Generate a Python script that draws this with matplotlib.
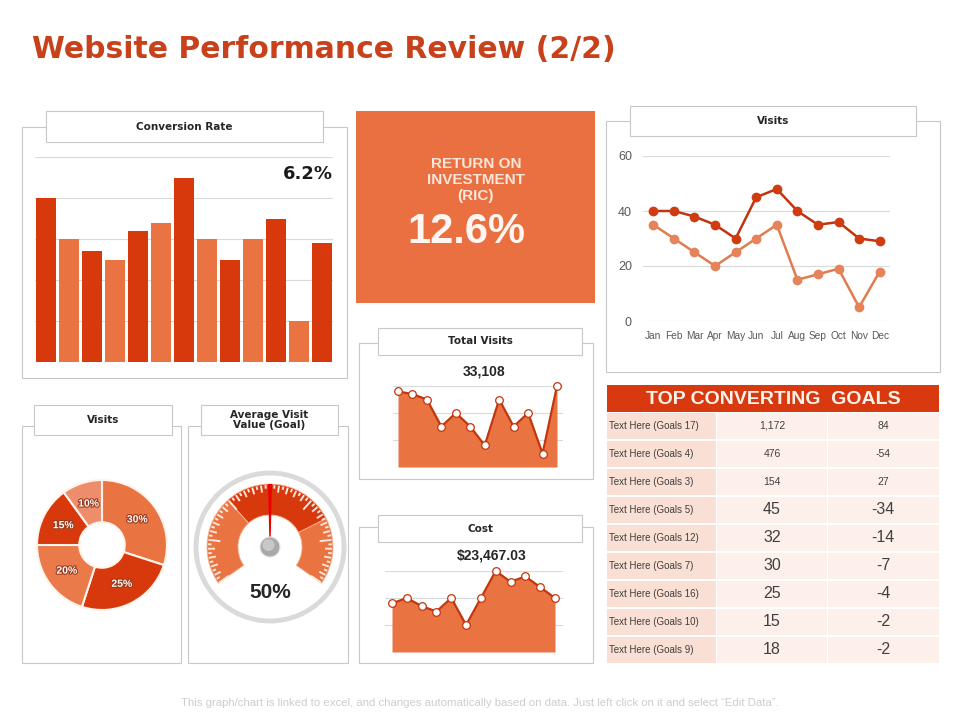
import numpy as np
import matplotlib
matplotlib.use('Agg')
import matplotlib.pyplot as plt
from matplotlib.patches import Rectangle, Wedge, Circle, Polygon
import matplotlib.patheffects as pe

# ---- data ----
conv_rate = [40, 30, 27, 25, 32, 34, 45, 30, 25, 30, 35, 10, 29]
conv_total = '6.2%'

roi_label = 'RETURN ON\nINVESTMENT\n(RIC)'
roi_value = '12.6%'

months = ['Jan', 'Feb', 'Mar', 'Apr', 'May', 'Jun', 'Jul', 'Aug', 'Sep', 'Oct', 'Nov', 'Dec']
visits_a = [40, 40, 38, 35, 30, 45, 48, 40, 35, 36, 30, 29]
visits_b = [35, 30, 25, 20, 25, 30, 35, 15, 17, 19, 5, 18]

total_visits = [28, 27, 25, 15, 20, 15, 8, 25, 15, 20, 5, 30]
total_visits_label = '33,108'
cost = [18, 20, 17, 15, 20, 10, 20, 30, 26, 28, 24, 20]
cost_label = '$23,467.03'

visit_share = [30, 25, 20, 15, 10]
gauge_value = 50

goal_names = ['Text Here (Goals 17)', 'Text Here (Goals 4)', 'Text Here (Goals 3)',
              'Text Here (Goals 5)', 'Text Here (Goals 12)', 'Text Here (Goals 7)',
              'Text Here (Goals 16)', 'Text Here (Goals 10)', 'Text Here (Goals 9)']
goal_conv = ['1,172', '476', '154', '45', '32', '30', '25', '15', '18']
goal_change = ['84', '-54', '27', '-34', '-14', '-7', '-4', '-2', '-2']

# ---- colours ----
DARK = '#D7390D'
LIGHT = '#E97341'
PALE = '#EE8D6C'
FRAME = '#C8C8C8'
GRID = '#D9D9D9'
TXT = '#262626'
ARIAL = 'Liberation Sans'

W, H = 960, 720
fig = plt.figure(figsize=(W / 100, H / 100), dpi=100)
bg = fig.add_axes([0, 0, 1, 1])
bg.set_xlim(0, W)
bg.set_ylim(H, 0)
bg.axis('off')


def px_axes(x0, y0, x1, y1):
    # pixel box (top-left origin) -> figure axes
    ax = fig.add_axes([x0 / W, 1 - y1 / H, (x1 - x0) / W, (y1 - y0) / H])
    ax.patch.set_alpha(0)
    return ax


def panel(box, head, title):
    x0, y0, x1, y1 = box
    bg.add_patch(Rectangle((x0, y0), x1 - x0, y1 - y0, fill=False, ec=FRAME, lw=0.8))
    hx0, hy0, hx1, hy1 = head
    bg.add_patch(Rectangle((hx0, hy0), hx1 - hx0, hy1 - hy0, fc='white', ec=FRAME, lw=0.8))
    bg.text((hx0 + hx1) / 2, (hy0 + hy1) / 2, title, ha='center', va='center',
            fontsize=7.5, fontweight='bold', color=TXT, linespacing=1.0)


def clean(ax):
    for s in ax.spines.values():
        s.set_visible(False)


# title
bg.text(32, 50, 'Website Performance Review (2/2)', fontsize=21.5, fontweight='bold',
        color='#C8411B', va='center', ha='left')

# footer
bg.text(480, 703, 'This graph/chart is linked to excel, and changes automatically based on data. '
        'Just left click on it and select \u201cEdit Data\u201d.', fontsize=8.2, color='#CDCDCD',
        ha='center', va='center', family=ARIAL)

# ---- conversion rate bars ----
panel((22, 127, 347, 378), (46, 111, 323, 142), 'Conversion Rate')
ax = px_axes(35, 157, 333, 362)
idx = np.arange(len(conv_rate))
ax.bar(idx, conv_rate, width=0.87, color=[DARK if i % 2 == 0 else LIGHT for i in idx], zorder=3)
ax.set_xlim(-0.5, len(conv_rate) - 0.5)
ax.set_ylim(0, 50)
ax.set_yticks(np.arange(0, 51, 10))
ax.grid(axis='y', color=GRID, lw=0.8)
ax.tick_params(left=False, bottom=False, labelleft=False, labelbottom=False)
clean(ax)
bg.text(333, 174, conv_total, ha='right', va='center', fontsize=13, fontweight='bold', color='#1a1a1a')

# ---- ROI box ----
bg.add_patch(Rectangle((356, 111), 239, 192, fc='#EA7042', ec='none'))
bg.text(476, 180, roi_label, ha='center', va='center', fontsize=11, fontweight='bold',
        color='#FBE6DA', family=ARIAL, linespacing=1.2)
bg.text(466, 232, roi_value, ha='center', va='center', fontsize=30, fontweight='bold',
        color='#FFF6F1', family=ARIAL)

# ---- visits line chart ----
panel((606, 121, 940, 372), (630, 106, 916, 136), 'Visits')
ax = px_axes(643, 156, 890, 321)
x = np.arange(len(months))
ax.plot(x, visits_a, color='#BF350F', lw=1.8, marker='o', ms=6, mfc='#D03C10', mec='#D03C10', zorder=4, clip_on=False)
ax.plot(x, visits_b, color='#DF7C52', lw=1.8, marker='o', ms=6, mfc='#E5835A', mec='#E5835A', zorder=3, clip_on=False)
ax.set_xlim(-0.5, len(months) - 0.5)
ax.set_ylim(0, 60)
ax.set_yticks([0, 20, 40, 60])
ax.set_xticks(x)
ax.set_xticklabels(months)
ax.grid(axis='y', color=GRID, lw=0.8)
ax.tick_params(length=0, colors='#595959', labelsize=9, pad=8)
ax.tick_params(axis='x', labelsize=7.3, pad=7)
for lab in ax.get_xticklabels() + ax.get_yticklabels():
    lab.set_family(ARIAL)
clean(ax)


# ---- area charts ----
def area_chart(box, data, first_px, last_px):
    x0, y0, x1, y1 = box
    ax = px_axes(x0, y0, x1, y1)
    n = len(data)
    pitch = (last_px - first_px) / (n - 1)
    xs = np.arange(n)
    ax.fill_between(xs, data, 0, color=LIGHT, lw=0, zorder=2)
    ax.plot(xs, data, color='#C2360E', lw=1.6, marker='o', ms=5.5, mfc='white', mec='#C2360E',
            mew=0.9, zorder=3, clip_on=False)
    ax.set_xlim(-(first_px - x0) / pitch, n - 1 + (x1 - last_px) / pitch)
    ax.set_ylim(0, 30)
    ax.set_yticks([0, 10, 20, 30])
    ax.grid(axis='y', color=GRID, lw=0.8, zorder=1)
    ax.tick_params(left=False, bottom=False, labelleft=False, labelbottom=False)
    clean(ax)
    return ax


panel((359, 343, 593, 479), (378, 328, 582, 355), 'Total Visits')
area_chart((393, 386, 563, 467), total_visits, 398, 557)
bg.text(484, 372, total_visits_label, ha='center', va='center', fontsize=10, fontweight='bold',
        color=TXT, family=ARIAL)

panel((359, 527, 593, 663), (378, 515, 582, 542), 'Cost')
area_chart((385, 571, 563, 652), cost, 392, 555)
bg.text(492, 555, cost_label, ha='center', va='center', fontsize=10, fontweight='bold',
        color=TXT, family=ARIAL)

# ---- donut ----
panel((22, 426, 181, 663), (34, 405, 172, 435), 'Visits')
cx, cy, r = 102, 545, 65
ax = px_axes(cx - r, cy - r, cx + r, cy + r)
wedges, _, autotexts = ax.pie(visit_share, colors=[LIGHT, DARK, '#EB7A4B', DARK, PALE],
                              startangle=90, counterclock=False, radius=1,
                              autopct='%d%%', pctdistance=0.67,
                              wedgeprops=dict(width=0.65, edgecolor='#FFF4EC', linewidth=1.5))
for t in autotexts:
    t.set_color('white')
    t.set_fontsize(7.5)
    t.set_fontweight('bold')
    t.set_family(ARIAL)
    t.set_path_effects([pe.withStroke(linewidth=1.6, foreground='#9A3A1A')])
ax.set_xlim(-1, 1)
ax.set_ylim(-1, 1)
ax.axis('off')

# ---- gauge ----
panel((188, 426, 348, 663), (201, 405, 338, 435), 'Average Visit\nValue (Goal)')
gx, gy = 270, 547
ax = px_axes(gx - 80, gy - 80, gx + 80, gy + 80)
ax.set_xlim(-80, 80)
ax.set_ylim(-80, 80)
ax.axis('off')
ax.add_patch(Circle((0, 0), 74, fc='white', ec='#DADADA', lw=3.5))
a_start, a_end = 215, -35
dark_lo, dark_hi = 27, 132
ax.add_patch(Wedge((0, 0), 63, a_end, dark_lo, width=31, fc=LIGHT, ec='#F6B79A', lw=0.6))
ax.add_patch(Wedge((0, 0), 63, dark_lo, dark_hi, width=31, fc=DARK, ec='#F6B79A', lw=0.6))
ax.add_patch(Wedge((0, 0), 63, dark_hi, a_start, width=31, fc=LIGHT, ec='#F6B79A', lw=0.6))
n_ticks = 60
for i in range(n_ticks + 1):
    ang = np.radians(a_start - (a_start - a_end) * i / n_ticks)
    if i % 10 == 0:
        r_in = 50
    elif i % 2 == 0:
        r_in = 55
    else:
        r_in = 58.5
    ax.plot([r_in * np.cos(ang), 62 * np.cos(ang)], [r_in * np.sin(ang), 62 * np.sin(ang)],
            color='#FDE6DA', lw=1.4, solid_capstyle='butt')
na = np.radians(a_start - (a_start - a_end) * gauge_value / 100)
ux, uy = np.cos(na), np.sin(na)
vx, vy = -uy, ux
needle = [(63 * ux + 2 * vx, 63 * uy + 2 * vy), (63 * ux - 2 * vx, 63 * uy - 2 * vy),
          (-0.5 * vx, -0.5 * vy), (0.5 * vx, 0.5 * vy)]
ax.add_patch(Polygon(needle, closed=True, fc='#EE0000', ec='none', zorder=5))
ax.add_patch(Circle((0, 0), 10, fc='#A9A9A9', ec='#E6E6E6', lw=0.8, zorder=6))
ax.add_patch(Circle((-1.5, 2), 6, fc='#C8C8C8', ec='none', zorder=6))
ax.text(0, gy - 592, '%d%%' % gauge_value, ha='center', va='center', fontsize=15, fontweight='bold',
        color=TXT, family=ARIAL, zorder=7)

# ---- table ----
tx0, tx1 = 607, 939
bg.add_patch(Rectangle((tx0, 385), tx1 - tx0, 27, fc='#D9390E', ec='none'))
bg.text((tx0 + tx1) / 2, 399, 'TOP CONVERTING  GOALS', ha='center', va='center', fontsize=14,
        fontweight='bold', color='#FFF3EC', family=ARIAL)
cols = [(607, 716), (717, 827), (828, 939)]
row_h = 28
for i, name in enumerate(goal_names):
    top = 413 + i * row_h
    for j, (c0, c1) in enumerate(cols):
        bg.add_patch(Rectangle((c0, top), c1 - c0, row_h - 2,
                               fc='#FADFD4' if j == 0 else '#FDEFEA', ec='none'))
    yc = top + (row_h - 2) / 2
    bg.text(609, yc, name, ha='left', va='center', fontsize=7, color='#404040', family=ARIAL)
    fs = 7.5 if i < 3 else 11.5
    bg.text(772, yc, goal_conv[i], ha='center', va='center', fontsize=fs, color='#404040', family=ARIAL)
    bg.text(883, yc, goal_change[i], ha='center', va='center', fontsize=fs, color='#404040', family=ARIAL)

fig.savefig('out.png', dpi=100)
